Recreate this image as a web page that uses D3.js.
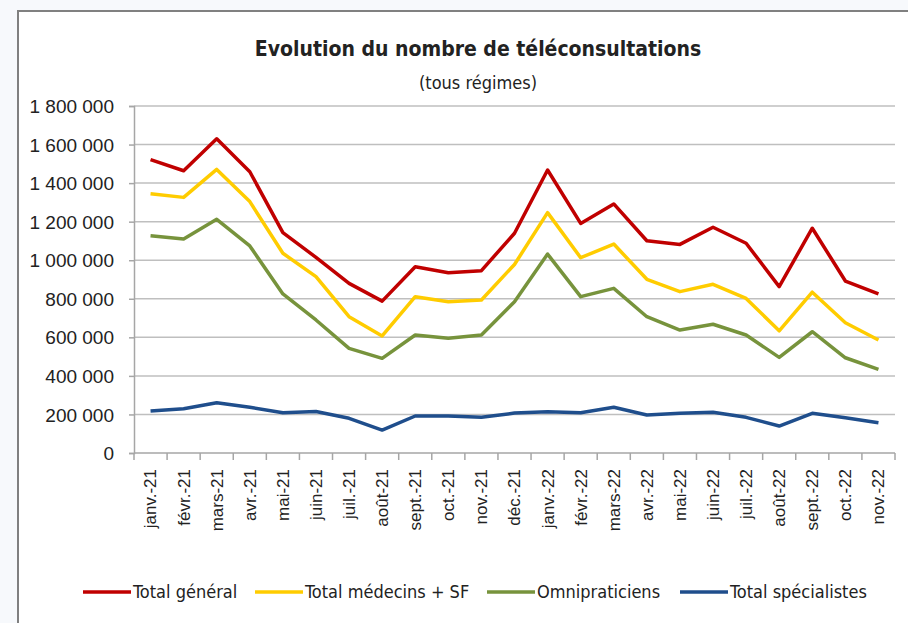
<!DOCTYPE html>
<html>
<head>
<meta charset="utf-8">
<script src="https://cdn.jsdelivr.net/npm/d3@7"></script>
<style>
  body { margin: 0; background: #f7f9fc; }
  text { font-family: "Liberation Sans Narrow", "DejaVu Sans Condensed", "Roboto Condensed", sans-serif; fill: #222; }
</style>
</head>
<body>
<div class="chart"></div>
<script>
// months, janv. 2021 to nov. 2022
const months = ["janv.-21","févr.-21","mars-21","avr.-21","mai-21","juin-21","juil.-21","août-21",
  "sept.-21","oct.-21","nov.-21","déc.-21","janv.-22","févr.-22","mars-22","avr.-22","mai-22",
  "juin-22","juil.-22","août-22","sept.-22","oct.-22","nov.-22"];

const totalGeneral = [1522000,1464000,1630000,1459000,1143000,1015000,880000,788000,966000,935000,946000,
  1140000,1468000,1191000,1292000,1101000,1082000,1171000,1088000,863000,1166000,892000,825000];
const totalMedecins = [1345000,1326000,1471000,1304000,1036000,915000,707000,607000,811000,785000,794000,
  978000,1247000,1013000,1084000,901000,837000,875000,802000,634000,834000,676000,586000];
const omnipraticiens = [1127000,1110000,1212000,1074000,825000,690000,543000,491000,612000,595000,612000,
  785000,1032000,811000,854000,707000,638000,668000,612000,496000,629000,494000,434000];
const specialistes = [218000,230000,261000,237000,209000,215000,180000,119000,192000,192000,185000,
  207000,214000,209000,237000,197000,206000,211000,185000,140000,206000,183000,157000];

const yTicks = [0,200000,400000,600000,800000,1000000,1200000,1400000,1600000,1800000];

const series = [
  {name: "Total général", values: totalGeneral, color: "#c00000"},
  {name: "Total médecins + SF", values: totalMedecins, color: "#ffcc00"},
  {name: "Omnipraticiens", values: omnipraticiens, color: "#77933c"},
  {name: "Total spécialistes", values: specialistes, color: "#1f4e8c"}
];

const W = 908, H = 623;
const margin = {top: 106, right: 13, bottom: 170, left: 134};
const width = W - margin.left - margin.right,
      height = H - margin.top - margin.bottom;

const svg = d3.select(".chart").append("svg")
    .attr("width", W)
    .attr("height", H);

// chart frame (only top and left edges are visible)
svg.append("rect")
    .attr("x", 18).attr("y", 11)
    .attr("width", W).attr("height", H)
    .attr("fill", "#fff")
    .attr("stroke", "#808080")
    .attr("stroke-width", 2);

svg.append("text")
    .attr("x", 478).attr("y", 56)
    .attr("text-anchor", "middle")
    .style("font-size", "21px")
    .style("font-weight", "bold")
    .text("Evolution du nombre de téléconsultations");

svg.append("text")
    .attr("x", 478).attr("y", 89)
    .attr("text-anchor", "middle")
    .style("font-size", "18px")
    .text("(tous régimes)");

const g = svg.append("g")
    .attr("transform", "translate(" + margin.left + "," + margin.top + ")");

const x = d3.scaleBand().domain(months).range([0, width]);
const y = d3.scaleLinear().domain([0, 1800000]).range([height, 0]);

const fmt = v => d3.format(",")(v).replace(/,/g, " ");

// gridlines
g.append("g")
    .selectAll("line")
    .data(yTicks.slice(1))
    .enter().append("line")
    .attr("x1", 0).attr("x2", width)
    .attr("y1", d => y(d)).attr("y2", d => y(d))
    .attr("stroke", "#bfbfbf")
    .attr("stroke-width", 1.5);

// y axis
const yAxis = g.append("g")
    .call(d3.axisLeft(y).tickValues(yTicks).tickFormat(fmt).tickSize(5).tickPadding(15));
yAxis.select(".domain").attr("stroke", "#a6a6a6").attr("stroke-width", 1.5);
yAxis.selectAll(".tick line").attr("stroke", "#a6a6a6").attr("stroke-width", 1.5);
yAxis.selectAll("text")
    .style("font-size", "19px")
    .style("font-family", "'Liberation Sans', Arial, sans-serif")
    .attr("fill", "#333")
    .attr("dy", "0.35em");

// x axis, ticks between categories
const xAxis = g.append("g")
    .attr("transform", "translate(0," + height + ")");
xAxis.append("line")
    .attr("x1", 0).attr("x2", width)
    .attr("stroke", "#a6a6a6").attr("stroke-width", 1.5);
xAxis.selectAll(".xt")
    .data(months.concat(["end"]))
    .enter().append("line")
    .attr("class", "xt")
    .attr("x1", (d, i) => i * x.step()).attr("x2", (d, i) => i * x.step())
    .attr("y1", 0).attr("y2", 7)
    .attr("stroke", "#a6a6a6").attr("stroke-width", 1.5);
xAxis.selectAll(".xl")
    .data(months)
    .enter().append("text")
    .attr("class", "xl")
    .attr("transform", d => "translate(" + (x(d) + x.bandwidth() / 2) + ",16) rotate(-90)")
    .attr("text-anchor", "end")
    .attr("dy", "0.35em")
    .style("font-size", "17px")
    .style("font-family", "'Liberation Sans', Arial, sans-serif")
    .text(d => d);

// lines
const line = d3.line()
    .x((d, i) => x(months[i]) + x.bandwidth() / 2)
    .y(d => y(d));

g.selectAll(".series")
    .data(series)
    .enter().append("path")
    .attr("class", "series")
    .attr("fill", "none")
    .attr("stroke", d => d.color)
    .attr("stroke-width", 3.5)
    .attr("stroke-linejoin", "round")
    .attr("d", d => line(d.values));

// legend
const legendX = [83, 255, 487, 680];
const legend = svg.append("g").attr("transform", "translate(0,592)");
const item = legend.selectAll(".item")
    .data(series)
    .enter().append("g")
    .attr("class", "item")
    .attr("transform", (d, i) => "translate(" + legendX[i] + ",0)");
item.append("line")
    .attr("x1", 0).attr("x2", 48)
    .attr("stroke", d => d.color)
    .attr("stroke-width", 3.5);
item.append("text")
    .attr("x", 50)
    .attr("dy", "0.35em")
    .style("font-size", "18px")
    .text(d => d.name);
</script>
</body>
</html>
